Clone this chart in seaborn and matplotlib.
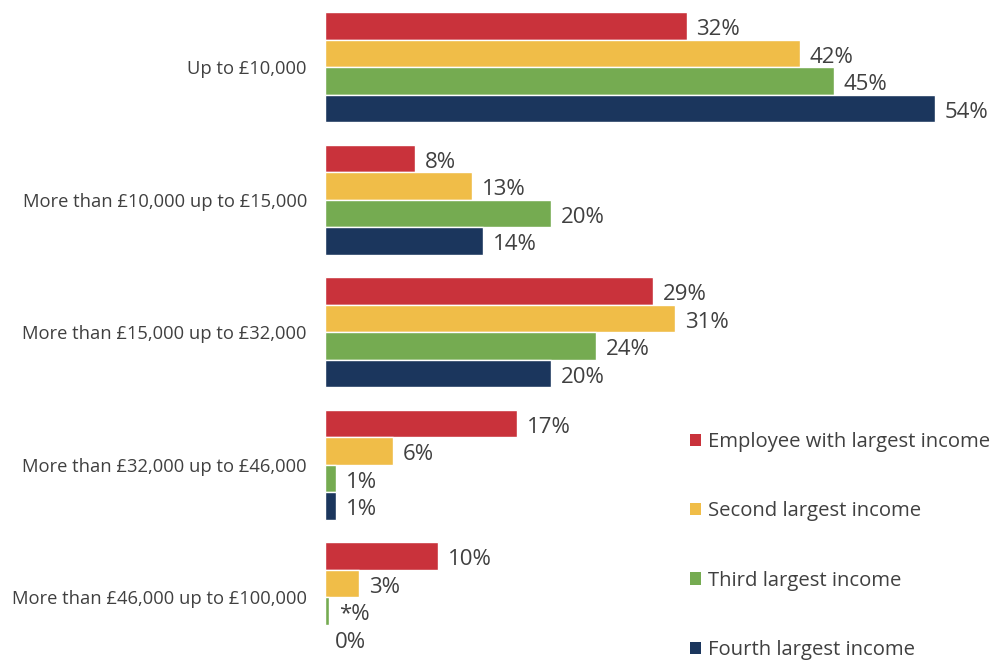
import matplotlib
matplotlib.use("Agg")
import matplotlib.pyplot as plt
import seaborn as sns
import pandas as pd
from matplotlib.patches import Patch

categories = ["Up to £10,000", "More than £10,000 up to £15,000", "More than £15,000 up to £32,000",
              "More than £32,000 up to £46,000", "More than £46,000 up to £100,000"]
series = ["Employee with largest income", "Second largest income", "Third largest income", "Fourth largest income"]
largest = [32, 8, 29, 17, 10]
second = [42, 13, 31, 6, 3]
third = [45, 20, 24, 1, 0.35]
fourth = [54, 14, 20, 1, 0]
label_largest = ["32%", "8%", "29%", "17%", "10%"]
label_second = ["42%", "13%", "31%", "6%", "3%"]
label_third = ["45%", "20%", "24%", "1%", "*%"]
label_fourth = ["54%", "14%", "20%", "1%", "0%"]
colors = ["#C9323B", "#F0BD48", "#75AB51", "#1B365D"]

values = [largest, second, third, fourth]
labels = [label_largest, label_second, label_third, label_fourth]
rows = []
for s, vals in zip(series, values):
    for c, v in zip(categories, vals):
        rows.append({"category": c, "series": s, "value": v})
df = pd.DataFrame(rows)

sns.set_theme(style="white")
plt.rcParams["font.family"] = ["Open Sans", "DejaVu Sans"]
text_color = "#404040"

fig = plt.figure(figsize=(9.92, 6.62), dpi=100)
ax = fig.add_axes([325/992, 0, 1 - 325/992 - 0.01, 1])
sns.barplot(data=df, y="category", x="value", hue="series", order=categories, hue_order=series,
            palette=colors, saturation=1, orient="h", width=0.83, edgecolor="white", linewidth=1,
            legend=False, ax=ax)

for cont, labs in zip(ax.containers, labels):
    texts = ax.bar_label(cont, labels=labs, padding=7, fontsize=16, color=text_color)
    for t in texts:
        t.xyann = (7, -2.8)

ax.set_xlim(0, 657/11.3)
ax.set_ylim(4.49, -0.506)
ax.set_xlabel("")
ax.set_ylabel("")
ax.set_xticks([])
ax.tick_params(axis="y", length=0, pad=13, labelsize=13.2, labelcolor=text_color)
for sp in ax.spines.values():
    sp.set_visible(False)

handles = [Patch(facecolor=c, edgecolor="none") for c in colors]
fig.legend(handles, series, loc="center left", bbox_to_anchor=(690/992, 1 - 546/662),
           frameon=False, fontsize=14.6, labelcolor=text_color, handlelength=0.55, handleheight=0.55,
           handletextpad=0.35, labelspacing=2.43, borderpad=0, borderaxespad=0)

fig.savefig("out.png", dpi=100)
